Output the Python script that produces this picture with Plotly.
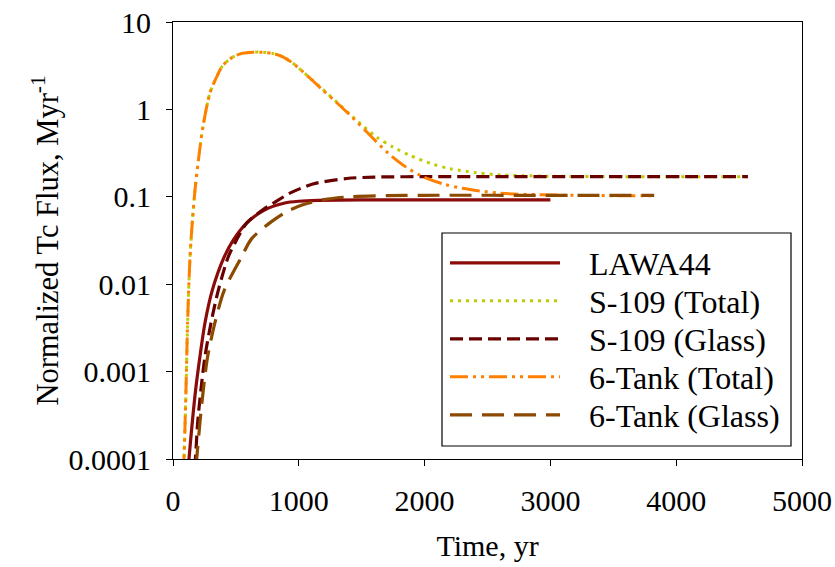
import plotly.graph_objects as go

# ---- data ----
lawa_t = [120, 127, 153, 180, 214, 254, 312, 407, 479, 585, 730, 889, 1000, 1150, 1500, 3000]
lawa_v = [0.00007, 0.0001, 0.00026, 0.00062, 0.00148, 0.0036, 0.0085, 0.0205, 0.032, 0.050, 0.071, 0.085, 0.089, 0.091, 0.092, 0.092]

s109t_t = [80, 87, 103, 116, 135, 155, 175, 200, 238, 294, 350, 397, 480, 556, 640, 714, 800, 873, 950, 1032, 1190, 1300, 1430, 1620, 1750, 1880, 2050, 2200, 2400, 2595, 3000, 3600, 4570]
s109t_v = [0.00007, 0.0001, 0.0006, 0.0036, 0.02, 0.055, 0.12, 0.25, 0.63, 1.55, 2.4, 3.2, 4.0, 4.4, 4.52, 4.5, 4.35, 4.0, 3.4, 2.7, 1.7, 1.22, 0.82, 0.48, 0.37, 0.30, 0.24, 0.21, 0.19, 0.178, 0.172, 0.17, 0.17]

s109g_t = [172, 180, 196, 222, 254, 302, 360, 439, 505, 585, 714, 833, 929, 1111, 1381, 1600, 2000, 3000, 4570]
s109g_v = [0.00008, 0.00011, 0.00026, 0.00062, 0.00148, 0.0036, 0.0085, 0.0205, 0.032, 0.050, 0.071, 0.091, 0.11, 0.14, 0.162, 0.168, 0.17, 0.17, 0.17]

tank6t_t = [80, 87, 103, 116, 135, 155, 175, 200, 238, 294, 350, 397, 480, 556, 640, 714, 800, 873, 950, 1032, 1190, 1300, 1430, 1570, 1710, 1850, 1985, 2150, 2300, 2595, 3000, 3500, 3825]
tank6t_v = [0.00007, 0.0001, 0.0006, 0.0036, 0.02, 0.055, 0.12, 0.25, 0.63, 1.55, 2.4, 3.2, 4.0, 4.4, 4.52, 4.5, 4.35, 4.0, 3.4, 2.7, 1.67, 1.2, 0.8, 0.5, 0.316, 0.22, 0.17, 0.14, 0.125, 0.11, 0.105, 0.103, 0.103]

tank6g_t = [180, 188, 214, 241, 275, 333, 407, 545, 624, 783, 915, 1032, 1200, 1405, 1700, 2000, 3000, 3825]
tank6g_v = [0.00008, 0.0001, 0.00026, 0.00062, 0.00148, 0.0036, 0.0085, 0.0205, 0.033, 0.052, 0.069, 0.081, 0.093, 0.100, 0.103, 0.104, 0.104, 0.104]

series_names = ["LAWA44", "S-109 (Total)", "S-109 (Glass)", "6-Tank (Total)", "6-Tank (Glass)"]

y_tickvals = [0.0001, 0.001, 0.01, 0.1, 1, 10]
y_ticktext = ["0.0001", "0.001", "0.01", "0.1", "1", "10"]
x_tickvals = [0, 1000, 2000, 3000, 4000, 5000]

FONT = "Liberation Serif, Times New Roman, serif"
W, H = 835, 567
L, R, T, B = 173, 33, 22, 108
PW, PH = W - L - R, H - T - B

def px_x(p):
    return (p - L) / PW

def px_y(p):
    return (H - B - p) / PH

legend_keys = ["legend", "legend2", "legend3", "legend4", "legend5"]
row_y = [263, 301, 339, 377, 415]

fig = go.Figure()
specs = [
    (lawa_t, lawa_v, "#8B0A0A", "solid", 3.2),
    (s109t_t, s109t_v, "#BFCC00", "3px,5px", 3),
    (s109g_t, s109g_v, "#680000", "13px,6px", 3.2),
    (tank6t_t, tank6t_v, "#FF8000", "18px,5px,3px,5px,3px,5px", 3),
    (tank6g_t, tank6g_v, "#8B4A00", "22px,10px", 3.2),
]
for name, key, (t, v, col, dash, w) in zip(series_names, legend_keys, specs):
    fig.add_trace(go.Scatter(
        x=t, y=v, mode="lines", name="\u00a0\u00a0\u00a0" + name, legend=key,
        line=dict(color=col, dash=dash, width=w, shape="spline", smoothing=0.8),
    ))

legend_common = dict(
    xanchor="left", yanchor="middle", bgcolor="rgba(0,0,0,0)", borderwidth=0,
    font=dict(family=FONT, size=32, color="black"), itemwidth=110,
)
lay = dict(
    width=W, height=H,
    margin=dict(l=L, r=R, t=T, b=B, autoexpand=False),
    paper_bgcolor="white", plot_bgcolor="white",
    font=dict(family=FONT, size=30, color="black"),
    showlegend=True,
)
for key, ry in zip(legend_keys, row_y):
    lay[key] = dict(x=px_x(445), y=px_y(ry), **legend_common)
fig.update_layout(**lay)

# legend frame
fig.add_shape(
    type="rect", xref="paper", yref="paper",
    x0=px_x(442), x1=px_x(791), y0=px_y(446), y1=px_y(233),
    line=dict(color="black", width=1.2), fillcolor="white", layer="above",
)

fig.update_xaxes(
    range=[0, 5000], tickvals=x_tickvals, ticks="outside", ticklen=6,
    tickcolor="black", showline=True, linecolor="black", linewidth=1.2,
    mirror=True, showgrid=False, zeroline=False, automargin=False,
    title=dict(text="Time, yr", font=dict(family=FONT, size=30), standoff=18),
    ticklabelstandoff=9,
)
fig.update_yaxes(
    type="log", range=[-4, 1], tickvals=y_tickvals, ticktext=y_ticktext,
    ticks="outside", ticklen=6, tickcolor="black", showline=True,
    linecolor="black", linewidth=1.2, mirror=True, showgrid=False,
    zeroline=False, automargin=False,
    title=dict(text="Normalized Tc Flux, Myr<sup>-1</sup>", font=dict(family=FONT, size=30.5), standoff=0),
    ticklabelstandoff=9,
)

fig.write_html("out.html")
